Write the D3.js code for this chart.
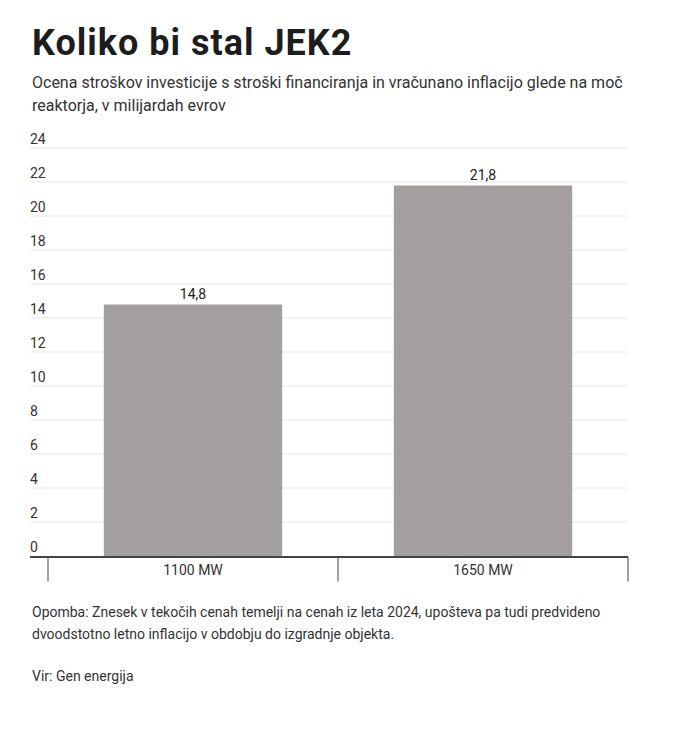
<!DOCTYPE html>
<html>
<head>
<meta charset="utf-8">
<script src="https://cdn.jsdelivr.net/npm/d3@7"></script>
<style>
  html, body { margin: 0; padding: 0; background: #fff; }
  text { font-family: "Roboto", sans-serif; }
</style>
</head>
<body>
<svg id="chart" width="700" height="750"></svg>
<script>
const categories = ["1100 MW", "1650 MW"];
const values = [14.8, 21.8];
const valueLabels = ["14,8", "21,8"];
const yTicks = [0, 2, 4, 6, 8, 10, 12, 14, 16, 18, 20, 22, 24];
const title = "Koliko bi stal JEK2";
const subtitleLines = [
  "Ocena stroškov investicije s stroški financiranja in vračunano inflacijo glede na moč",
  "reaktorja, v milijardah evrov"
];
const noteLines = [
  "Opomba: Znesek v tekočih cenah temelji na cenah iz leta 2024, upošteva pa tudi predvideno",
  "dvoodstotno letno inflacijo v obdobju do izgradnje objekta."
];
const source = "Vir: Gen energija";

const svg = d3.select("#chart");

svg.append("text").attr("x", 32).attr("y", 55)
  .attr("font-size", 36).attr("font-weight", 700).attr("fill", "#1d1d1d")
  .attr("letter-spacing", 1)
  .text(title);

subtitleLines.forEach((l, i) => {
  svg.append("text").attr("x", 32).attr("y", 88 + i * 23)
    .attr("font-size", 16).attr("fill", "#333").text(l);
});

const y = d3.scaleLinear().domain([0, 24]).range([556, 148]);
const x = d3.scaleBand().domain(categories).range([48, 628])
  .paddingInner(0.385).paddingOuter(0.1925);
const step = x.step();

// gridlines + y labels
const gy = svg.append("g");
yTicks.forEach(t => {
  if (t > 0) {
    gy.append("line").attr("x1", 30).attr("x2", 627)
      .attr("y1", y(t)).attr("y2", y(t))
      .attr("stroke", "#e6e6e6").attr("stroke-width", 1);
  }
  gy.append("text").attr("x", 30).attr("y", y(t) - 4)
    .attr("font-size", 14).attr("fill", "#333").text(t);
});

// bars
svg.append("g").selectAll("rect").data(categories).join("rect")
  .attr("x", d => x(d))
  .attr("width", x.bandwidth())
  .attr("y", (d, i) => y(values[i]))
  .attr("height", (d, i) => y(0) - y(values[i]))
  .attr("rx", 1)
  .attr("fill", "#a39f9e");

// value labels
svg.append("g").selectAll("text").data(categories).join("text")
  .attr("x", d => x(d) + x.bandwidth() / 2)
  .attr("y", (d, i) => y(values[i]) - 5)
  .attr("text-anchor", "middle")
  .attr("font-size", 14).attr("fill", "#1d1d1d")
  .text((d, i) => valueLabels[i]);

// x axis baseline
svg.append("line").attr("x1", 30).attr("x2", 628)
  .attr("y1", y(0) + 1).attr("y2", y(0) + 1)
  .attr("stroke", "#444").attr("stroke-width", 2);

// band separator ticks
const sepX = categories.map(c => x(c) - step * x.paddingInner() / 2);
sepX.push(x(categories[categories.length - 1]) + x.bandwidth() + step * x.paddingInner() / 2);
svg.append("g").selectAll("line").data(sepX).join("line")
  .attr("x1", d => d).attr("x2", d => d)
  .attr("y1", y(0) + 1).attr("y2", 581.5)
  .attr("stroke", "#444").attr("stroke-width", 1);

// category labels
svg.append("g").selectAll("text").data(categories).join("text")
  .attr("x", d => x(d) + x.bandwidth() / 2)
  .attr("y", 575)
  .attr("text-anchor", "middle")
  .attr("font-size", 14).attr("fill", "#333")
  .text(d => d);

noteLines.forEach((l, i) => {
  svg.append("text").attr("x", 32).attr("y", 617 + i * 22)
    .attr("font-size", 14).attr("fill", "#333").text(l);
});
svg.append("text").attr("x", 32).attr("y", 681)
  .attr("font-size", 14).attr("fill", "#333").text(source);
</script>
</body>
</html>
